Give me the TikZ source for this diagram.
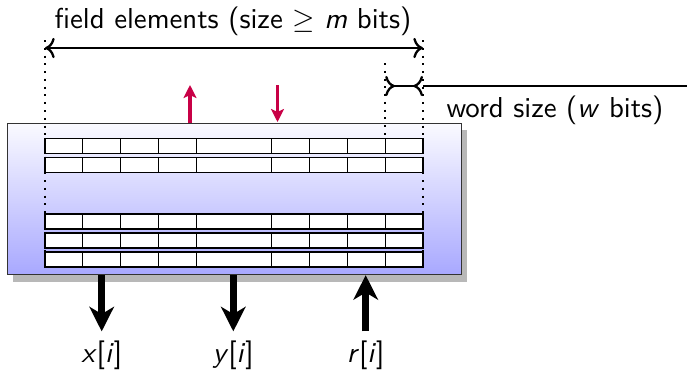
\documentclass[tikz,border=0pt]{standalone}
\usetikzlibrary{arrows.meta}

\definecolor{alertred}{RGB}{200,0,70}

\tikzset{
  cellrow/.style={draw=black, fill=white, line width=.4pt},
  guide/.style={dotted, line width=.7pt},
  span/.style={thick},
  iomove/.style={line width=2.5pt, -{Stealth[length=8.5pt,width=8.5pt,inset=2.5pt]}},
  regmove/.style={alertred, line width=1.3pt, -{Stealth[length=4.5pt,width=4.5pt,inset=1pt]}},
  lbl/.style={inner sep=0pt},
}

\begin{document}
\begin{tikzpicture}[x=.347pt,y=-.347pt,font=\sffamily]
  \useasboundingbox (0,0) rectangle (687,375);

  % register file with its shadow
  \fill[black!28] (13,130) rectangle (467,282);
  \node[anchor=north west, minimum width=157.5pt, minimum height=52.4pt,
        inner sep=0pt, draw=black!80, top color=blue!2, bottom color=blue!34]
        (regs) at (7,123) {};

  % rows of words
  \foreach \top in {138.7,157.7,214,233,252} {
    \draw[cellrow] (45,\top) rectangle (423,\top+15);
    \foreach \x in {82.8,120.6,158.4,196.2,271.8,309.6,347.4,385.2}
      \draw (\x,\top) -- (\x,\top+15);
  }

  % guides
  \draw[guide] (45,40) -- (45,267);
  \draw[guide] (423,40) -- (423,267);
  \draw[guide] (385.2,63) -- (385.2,138.7);

  % sizes
  \node[lbl] (title) at (233,21) {field elements (size $\geq$ \textit{m} bits)};
  \coordinate (fl) at (45,48);
  \coordinate (fr) at (423,48);
  \draw[span,<->] (fl) -- (fr);

  \node[lbl] (word) at (555,110) {word size (\textit{w} bits)};
  \coordinate (wl) at (385.2,86);
  \coordinate (wr) at (423,86);
  \coordinate (we) at (687,86);
  \draw[span,>-<] (wl) -- (wr);
  \draw[span] (wr) -- (we);

  % moves inside the register file
  \coordinate (upfoot) at (190,123);
  \coordinate (uptip) at (190,85);
  \coordinate (dnfoot) at (277.5,85);
  \coordinate (dntip) at (277.5,122);
  \draw[regmove] (upfoot) -- (uptip);
  \draw[regmove] (dnfoot) -- (dntip);

  % loads and stores
  \node[lbl] (xi) at (101.7,355) {\textit{x}[\textit{i}]};
  \node[lbl] (yi) at (233.3,355) {\textit{y}[\textit{i}]};
  \node[lbl] (ri) at (365.7,355) {\textit{r}[\textit{i}]};

  \draw[iomove, shorten >=3pt] (regs.south -| xi) -- (xi.north);
  \draw[iomove, shorten >=3pt] (regs.south -| yi) -- (yi.north);
  \draw[iomove, shorten <=3pt] (ri.north) -- (regs.south -| ri);
\end{tikzpicture}
\end{document}
